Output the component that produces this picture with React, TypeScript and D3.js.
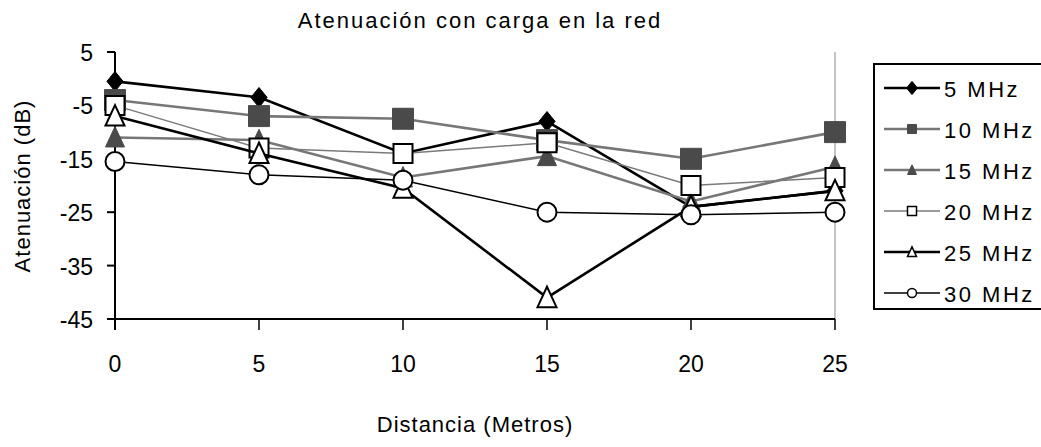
import React from "react";
import * as d3 from "d3";

const distances = [0, 5, 10, 15, 20, 25];
const s5 = [-0.5, -3.5, -14, -8, -24, -21];
const s10 = [-4, -7, -7.5, -11.5, -15, -10];
const s15 = [-11, -11.5, -18.5, -14.5, -23, -16.5];
const s20 = [-5, -13, -14, -12, -20, -18.5];
const s25 = [-7, -14, -20.5, -41, -24, -21];
const s30 = [-15.5, -18, -19, -25, -25.5, -25];
const seriesNames = ["5 MHz", "10 MHz", "15 MHz", "20 MHz", "25 MHz", "30 MHz"];
const yTicks = [5, -5, -15, -25, -35, -45];
const xTicks = [0, 5, 10, 15, 20, 25];

type Marker = "diamond" | "square" | "triangle" | "circle";
const styles: { line: string; lw: number; marker: Marker; fill: string; stroke: string }[] = [
  { line: "#000", lw: 2.6, marker: "diamond", fill: "#000", stroke: "#000" },
  { line: "#777", lw: 2.6, marker: "square", fill: "#4a4a4a", stroke: "#4a4a4a" },
  { line: "#777", lw: 2.6, marker: "triangle", fill: "#4a4a4a", stroke: "#4a4a4a" },
  { line: "#7a7a7a", lw: 1.5, marker: "square", fill: "#fff", stroke: "#000" },
  { line: "#000", lw: 2.6, marker: "triangle", fill: "#fff", stroke: "#000" },
  { line: "#000", lw: 1.5, marker: "circle", fill: "#fff", stroke: "#000" },
];

function markerPath(m: Marker, s: number): string {
  const h = s / 2;
  if (m === "diamond") return `M0,${-h * 1.1}L${h * 0.9},0L0,${h * 1.1}L${-h * 0.9},0Z`;
  if (m === "square") return `M${-h},${-h}H${h}V${h}H${-h}Z`;
  if (m === "triangle") return `M0,${-h * 1.15}L${h},${h}L${-h},${h}Z`;
  return d3.arc()({ innerRadius: 0, outerRadius: h, startAngle: 0, endAngle: 2 * Math.PI }) as string;
}

export default function App() {
  const data = [s5, s10, s15, s20, s25, s30];
  const x = d3.scaleLinear().domain([0, 25]).range([115, 835]);
  const y = d3.scaleLinear().domain([5, -45]).range([52, 319]);
  const line = d3
    .line<number>()
    .x((_, i) => x(distances[i]))
    .y((v) => y(v));
  const font = "'Liberation Sans', Arial, sans-serif";
  const legX = 874;
  const legY = 64;
  const legRow = 41;
  return (
    <svg
      width={1041}
      height={447}
      style={{ position: "absolute", left: 0, top: 0, background: "#fff" }}
      fontFamily={font}
    >
      <rect x={0} y={0} width={1041} height={447} fill="#fff" />
      <text x={480} y={28} fontSize={22} letterSpacing={2} textAnchor="middle" fill="#000">
        Atenuación con carga en la red
      </text>
      {/* right border */}
      <line x1={835} y1={52} x2={835} y2={319} stroke="#8a8a8a" strokeWidth={1} />
      {/* y axis */}
      <line x1={115} y1={52} x2={115} y2={330} stroke="#000" strokeWidth={2} />
      {yTicks.map((t) => (
        <g key={t}>
          <line x1={107} y1={y(t)} x2={115} y2={y(t)} stroke="#000" strokeWidth={2} />
          <text x={93} y={y(t) + 3} fontSize={23} textAnchor="end" dominantBaseline="middle">
            {t}
          </text>
        </g>
      ))}
      {/* x axis */}
      <line x1={107} y1={319} x2={835} y2={319} stroke="#000" strokeWidth={2} />
      {xTicks.map((t) => (
        <g key={t}>
          <line x1={x(t)} y1={319} x2={x(t)} y2={330} stroke="#000" strokeWidth={t === 0 ? 2 : 1.5} />
          <text x={x(t)} y={366} fontSize={23} textAnchor="middle" dominantBaseline="middle">
            {t}
          </text>
        </g>
      ))}
      <text x={475} y={426} fontSize={22} letterSpacing={1} textAnchor="middle" dominantBaseline="middle">
        Distancia (Metros)
      </text>
      <text
        transform={`translate(24,186) rotate(-90)`}
        fontSize={22}
        letterSpacing={1}
        textAnchor="middle"
        dominantBaseline="middle"
      >
        Atenuación (dB)
      </text>
      {/* series */}
      {data.map((vals, si) => {
        const st = styles[si];
        return (
          <g key={si}>
            <path d={line(vals) as string} fill="none" stroke={st.line} strokeWidth={st.lw} />
            {vals.map((v, i) => (
              <path
                key={i}
                d={markerPath(st.marker, st.marker === "diamond" ? 18 : st.marker === "square" && st.fill !== "#fff" ? 21 : 19)}
                transform={`translate(${x(distances[i])},${y(v)})`}
                fill={st.fill}
                stroke={st.stroke}
                strokeWidth={st.fill === "#fff" ? 2 : 1}
              />
            ))}
          </g>
        );
      })}
      {/* legend */}
      <rect x={legX} y={legY} width={200} height={245} fill="#fff" stroke="#000" strokeWidth={2} />
      {seriesNames.map((n, i) => {
        const st = styles[i];
        const cy = 88 + i * legRow;
        return (
          <g key={n}>
            <line x1={884} y1={cy} x2={940} y2={cy} stroke={st.line} strokeWidth={st.lw > 2 ? 2.5 : 1.3} />
            <path
              d={markerPath(st.marker, st.marker === "diamond" ? 12 : 9)}
              transform={`translate(912,${cy})`}
              fill={st.fill}
              stroke={st.stroke}
              strokeWidth={st.fill === "#fff" ? 1.5 : 1}
            />
            <text x={944} y={cy + 3} fontSize={22} letterSpacing={2.5} dominantBaseline="middle">
              {n}
            </text>
          </g>
        );
      })}
    </svg>
  );
}
